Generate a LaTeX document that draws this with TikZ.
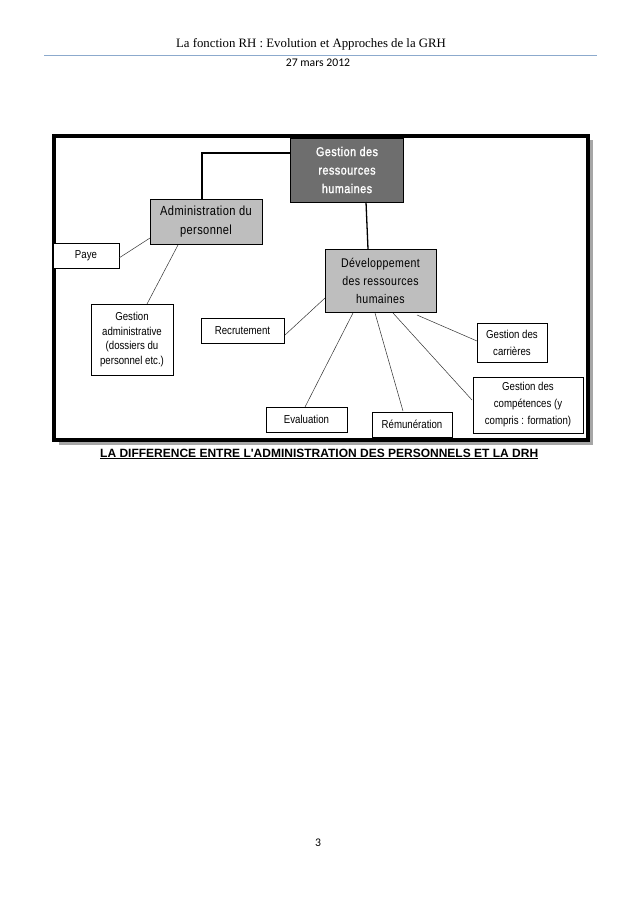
\documentclass[tikz,border=0pt]{standalone}
\usepackage{fontspec}
\setmainfont{Liberation Serif}
\newfontfamily\narrow[FakeStretch=0.84]{Liberation Sans}
\newfontfamily\narrowl[FakeStretch=0.84,LetterSpace=3]{Liberation Sans}
\newfontfamily\narrowb[FakeStretch=0.84,FakeBold=1.5,LetterSpace=4]{Liberation Sans}
\newfontfamily\calfnt{Carlito}
\newfontfamily\arialf{Liberation Sans}
\begin{document}
\begin{tikzpicture}[x=1pt,y=-1pt,
  box/.style={draw=black,line width=0.8pt,fill=white,align=center,inner sep=0pt,font=\narrow\fontsize{11.5}{14.5}\selectfont},
  lnk/.style={line width=0.5pt,draw=black!80}]
\useasboundingbox (0,0) rectangle (638,903);
\fill[white] (0,0) rectangle (638,903);
% header
\node[font=\fontsize{12.8}{14}\selectfont] (hd) at (311,44) {La fonction RH : Evolution et Approches de la GRH};
\draw[color={rgb,255:red,140;green,170;blue,205},line width=0.7pt] (44,55) -- (597,55);
\node[font=\calfnt\fontsize{11.7}{13}\selectfont] (dt) at (318,63) {27 mars 2012};
% frame with shadow
\fill[black!35] (59,140) rectangle (593,445);
\draw[line width=3.5pt,fill=white] (54,136) rectangle (588,440);
% nodes
\node[box,fill={rgb,255:red,110;green,110;blue,110},text=white,minimum width=113pt,minimum height=64pt,font=\narrowb\fontsize{12.8}{18.5}\selectfont] (grh) at (347,170) {Gestion des\\ressources\\humaines};
\node[box,fill={rgb,255:red,190;green,190;blue,190},minimum width=112pt,minimum height=45pt,font=\narrowl\fontsize{13.2}{19}\selectfont] (adm) at (206,221.5) {Administration du\\personnel};
\node[box,fill={rgb,255:red,190;green,190;blue,190},minimum width=111pt,minimum height=63pt,font=\narrowl\fontsize{12.6}{18}\selectfont] (dev) at (380.5,280.5) {D\'eveloppement\\des ressources\\humaines};
\node[box,minimum width=66pt,minimum height=25pt] (paye) at (86,255.5) {Paye};
\node[box,minimum width=82pt,minimum height=71pt] (gad) at (132,339.5) {Gestion\\administrative\\(dossiers du\\personnel etc.)};
\node[box,minimum width=83pt,minimum height=25pt] (rec) at (242.5,330.5) {Recrutement};
\node[box,minimum width=81pt,minimum height=25pt] (eva) at (306.5,419.5) {Evaluation};
\node[box,minimum width=80pt,minimum height=25pt] (rem) at (412,424.5) {R\'emun\'eration};
\node[box,minimum width=70pt,minimum height=39pt,font=\narrow\fontsize{11.5}{17}\selectfont] (car) at (512,342.5) {Gestion des\\carri\`eres};
\node[box,minimum width=110pt,minimum height=56pt,font=\narrow\fontsize{11.5}{17}\selectfont] (comp) at (528,405) {Gestion des\\comp\'etences (y\\compris : formation)};
% connectors
\coordinate (c1) at (202,153);
\draw[line width=1.8pt] (grh.west |- c1) -- (c1) -- (c1 |- adm.north);
\draw[line width=1.3pt] (366,202) -- (368,249);
\draw[lnk] (119,258) -- (150,238);
\draw[lnk] (147,304) -- (178,245);
\draw[lnk] (285,335) -- (325,298);
\draw[lnk] (305,407) -- (353,313);
\draw[lnk] (403,411) -- (375,313);
\draw[lnk] (472,400) -- (393,313);
\draw[lnk] (477,341) -- (417,315);
% caption
\node[anchor=west,inner sep=0pt,font=\arialf\bfseries\fontsize{12}{13}\selectfont] (cap) at (100,454) {\underline{LA DIFFERENCE ENTRE L'ADMINISTRATION DES PERSONNELS ET LA DRH}};
\node[font=\calfnt\fontsize{11.7}{13}\selectfont] (pg) at (318,843) {3};
\end{tikzpicture}
\end{document}
